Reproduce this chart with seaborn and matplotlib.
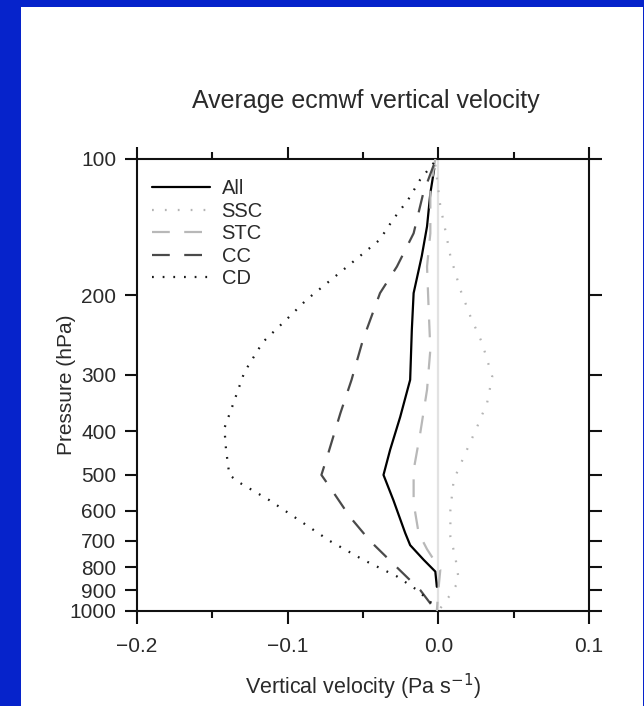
import numpy as np
import pandas as pd
import seaborn as sns
import matplotlib
matplotlib.use("Agg")
import matplotlib.pyplot as plt
from matplotlib.patches import Rectangle
from matplotlib.ticker import FixedLocator, NullFormatter, NullLocator

# 数据
series_names = ["All", "SSC", "STC", "CC", "CD"]

all_p = [105, 119, 141, 164, 198, 239, 308, 372, 440, 500, 569, 672, 715, 770, 818, 884]
all_w = [-0.0027, -0.0053, -0.0075, -0.011, -0.0164, -0.0176, -0.0187, -0.0253,
         -0.032, -0.0364, -0.0298, -0.022, -0.0187, -0.0098, -0.002, -0.001]

ssc_p = [103, 127, 144, 164, 195, 223, 255, 303, 346, 391, 456, 513, 597, 685,
         760, 855, 910, 963, 1000]
ssc_w = [-0.002, 0.0013, 0.0047, 0.008, 0.0147, 0.0213, 0.029, 0.0358, 0.0324,
         0.0258, 0.0169, 0.0102, 0.008, 0.008, 0.0113, 0.0136, 0.0091, 0.0036, 0.0]

stc_p = [100, 117, 146, 173, 216, 264, 324, 404, 488, 577, 672, 730, 811, 900, 1000]
stc_w = [-0.002, -0.0053, -0.0053, -0.0075, -0.0064, -0.0053, -0.0075, -0.012,
         -0.0164, -0.0164, -0.0131, -0.0075, 0.0013, 0.0, -0.001]

cc_p = [103, 119, 146, 173, 198, 251, 308, 365, 447, 500, 532, 619, 700, 800, 899, 985]
cc_w = [-0.003, -0.01, -0.0164, -0.0275, -0.0387, -0.05, -0.0576, -0.065, -0.073,
        -0.0776, -0.072, -0.0587, -0.0453, -0.0276, -0.012, -0.003]

cd_p = [102, 111, 123, 136, 151, 175, 205, 223, 254, 296, 350, 394, 440, 500, 520,
        569, 631, 700, 770, 838, 899, 970, 1000]
cd_w = [-0.003, -0.012, -0.02, -0.03, -0.039, -0.0623, -0.0876, -0.0987, -0.1164,
        -0.1287, -0.1364, -0.142, -0.1409, -0.1387, -0.132, -0.112, -0.092, -0.072,
        -0.05, -0.0276, -0.014, -0.003, -0.002]

x_ticks = [-0.2, -0.1, 0.0, 0.1]
x_minor = [-0.15, -0.05, 0.05]
y_ticks = [100, 200, 300, 400, 500, 600, 700, 800, 900, 1000]

# 拼成长表
frames = []
for name, p, w in zip(series_names, [all_p, ssc_p, stc_p, cc_p, cd_p],
                      [all_w, ssc_w, stc_w, cc_w, cd_w]):
    frames.append(pd.DataFrame({"w": w, "p": p, "type": name}))
df = pd.concat(frames, ignore_index=True)

sns.set_style("ticks")
plt.rcParams['font.family'] = ['Liberation Sans', 'DejaVu Sans']
plt.rcParams['axes.unicode_minus'] = True

palette = {"All": "#000000", "SSC": "#b4b4b4", "STC": "#b8b8b8", "CC": "#4a4a4a", "CD": "#1a1a1a"}
dashes = {"All": "", "SSC": (0.8, 5), "STC": (8, 6.5), "CC": (8, 6.5), "CD": (0.8, 4)}

fig = plt.figure(figsize=(6.44, 7.06), dpi=100)
fig.patch.set_facecolor("#0623cb")
fig.patches.append(Rectangle((21 / 644, 0), 622 / 644, 699 / 706, transform=fig.transFigure,
                             facecolor="white", edgecolor="none", zorder=-10))

ax = fig.add_axes([137 / 644, 95 / 706, 452 / 644, 452 / 706])
ax.set_zorder(5)

ax.axvline(0, color="#e2e2e2", lw=1.6, zorder=1)

sns.lineplot(data=df, x="w", y="p", hue="type", style="type", hue_order=series_names,
             style_order=series_names, palette=palette, dashes=dashes,
             sort=False, estimator=None, orient="y", lw=1.6, legend=False, ax=ax, zorder=3)

ax.set_yscale("log")
ax.set_ylim(1000, 100)
ax.set_xlim(-0.2, 0.1)

ax.yaxis.set_major_locator(FixedLocator(y_ticks))
ax.yaxis.set_minor_locator(NullLocator())
ax.yaxis.set_minor_formatter(NullFormatter())
ax.set_yticklabels([str(t) for t in y_ticks])
ax.set_xticks(x_ticks)
ax.set_xticklabels(["\u22120.2", "\u22120.1", "0.0", "0.1"])
ax.set_xticks(x_minor, minor=True)

for s in ax.spines.values():
    s.set_linewidth(1.5)
    s.set_color("#111111")

ax.tick_params(axis="both", which="major", length=9, width=1.5, color="#111111",
               labelsize=15, labelcolor="#2a2a2a", top=True, right=True, direction="out")
ax.tick_params(axis="x", which="major", pad=10)
ax.tick_params(axis="y", which="major", pad=6)
ax.tick_params(axis="x", which="minor", length=5, width=1.5, color="#111111", top=True,
               direction="out")

ax.set_xlabel("Vertical velocity (Pa s$^{-1}$)", fontsize=15.5, color="#2a2a2a", labelpad=11)
ax.set_ylabel("Pressure (hPa)", fontsize=15, color="#2a2a2a", labelpad=-5)

fig.text(366 / 644, 1 - 108 / 706, "Average ecmwf vertical velocity", ha="center",
         va="baseline", fontsize=18, color="#2a2a2a")

lines = ax.get_lines()[1:6]
ax.legend(lines, series_names, loc="upper left", bbox_to_anchor=(0.011, 0.977),
          frameon=False, fontsize=14.5, handlelength=2.9, handletextpad=0.55,
          labelspacing=0.17, borderpad=0.0, labelcolor="#2a2a2a")

fig.savefig("out.png", dpi=100, facecolor=fig.get_facecolor())
